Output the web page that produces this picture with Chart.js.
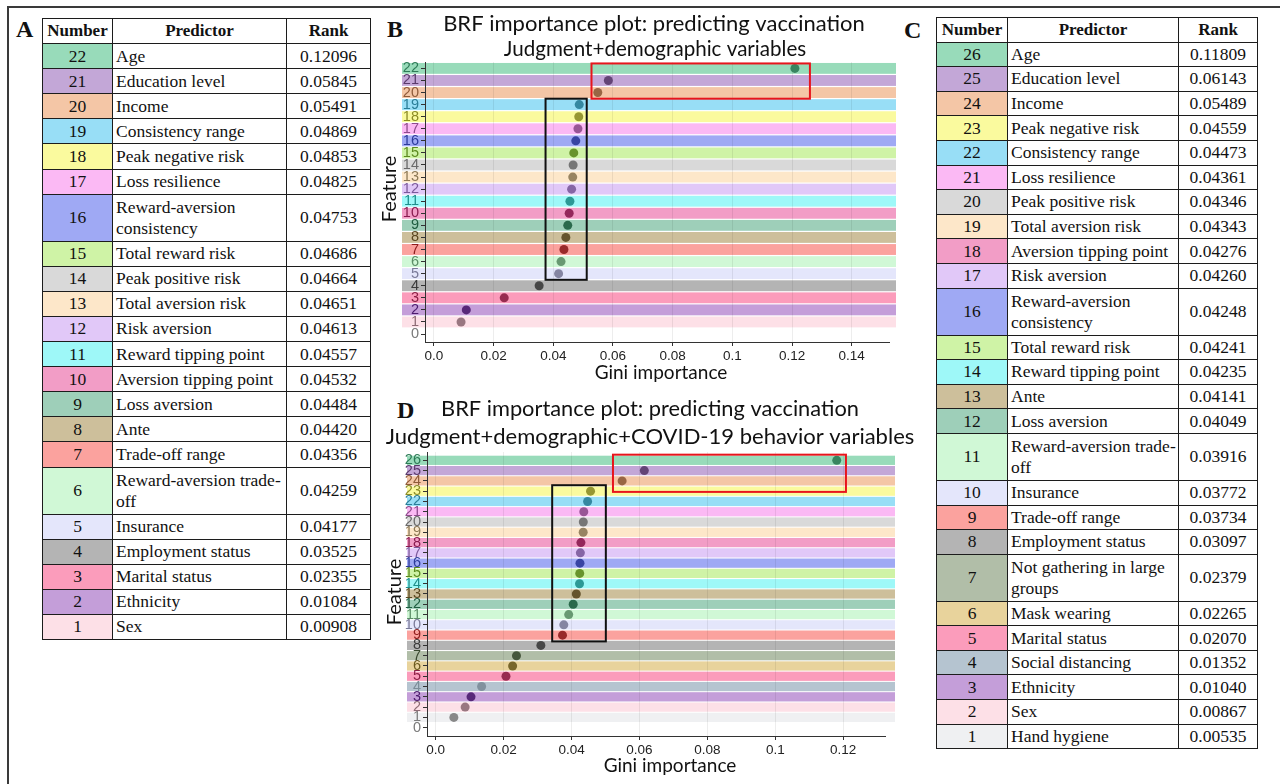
<!DOCTYPE html>
<html>
<head>
<meta charset="utf-8">
<script src="https://cdn.jsdelivr.net/npm/chart.js@4.4.1/dist/chart.umd.min.js"></script>
<style>
    html, body { margin: 0; padding: 0; background: #fff; }
    body { width: 1280px; height: 784px; position: relative; overflow: hidden; }
    #frame { position: absolute; left: 7px; top: 6px; width: 1300px; height: 820px; border-top: 2px solid #3a3a3a; border-left: 2px solid #3a3a3a; }
    .lbl { position: absolute; font: bold 24px "Liberation Serif", "Times New Roman", serif; color: #111; }
    table { position: absolute; border-collapse: collapse; table-layout: fixed; color: #111; }
    td, th { border: 1.5px solid #1c1c1c; padding: 0 3px; line-height: 21.5px; white-space: nowrap;
             font: 17.5px "Liberation Serif", "Times New Roman", serif; }
    th { font: bold 17px "Liberation Serif", "Times New Roman", serif; text-align: center; }
    #tableA td, #tableA th { height: 24.1px; }
    #tableC td, #tableC th { height: 23.6px; }
    td.num, td.rank { text-align: center; }
    td.two { padding: 2px 3px; }
    canvas { position: absolute; }
</style>
</head>
<body>
<div id="frame"></div>
<div class="lbl" style="left:16px;top:16px">A</div>
<div class="lbl" style="left:387px;top:16px">B</div>
<div class="lbl" style="left:904px;top:17px">C</div>
<div class="lbl" style="left:397px;top:397px">D</div>
<table id="tableA" style="left:42px;top:18px;width:328px"></table>
<table id="tableC" style="left:936px;top:17px;width:321px"></table>
<canvas id="chartB" width="520" height="380" style="left:380px;top:8px"></canvas>
<canvas id="chartD" width="540" height="388" style="left:380px;top:396px"></canvas>
<script>
// DATA
const numbersA = [22, 21, 20, 19, 18, 17, 16, 15, 14, 13, 12, 11, 10, 9, 8, 7, 6, 5, 4, 3, 2, 1];
const predictorsA = ['Age', 'Education level', 'Income', 'Consistency range', 'Peak negative risk', 'Loss resilience',
    'Reward-aversion consistency', 'Total reward risk', 'Peak positive risk', 'Total aversion risk', 'Risk aversion',
    'Reward tipping point', 'Aversion tipping point', 'Loss aversion', 'Ante', 'Trade-off range',
    'Reward-aversion trade-off', 'Insurance', 'Employment status', 'Marital status', 'Ethnicity', 'Sex'];
const ranksA = [0.12096, 0.05845, 0.05491, 0.04869, 0.04853, 0.04825, 0.04753, 0.04686, 0.04664, 0.04651, 0.04613,
    0.04557, 0.04532, 0.04484, 0.04420, 0.04356, 0.04259, 0.04177, 0.03525, 0.02355, 0.01084, 0.00908];

const numbersC = [26, 25, 24, 23, 22, 21, 20, 19, 18, 17, 16, 15, 14, 13, 12, 11, 10, 9, 8, 7, 6, 5, 4, 3, 2, 1];
const predictorsC = ['Age', 'Education level', 'Income', 'Peak negative risk', 'Consistency range', 'Loss resilience',
    'Peak positive risk', 'Total aversion risk', 'Aversion tipping point', 'Risk aversion', 'Reward-aversion consistency',
    'Total reward risk', 'Reward tipping point', 'Ante', 'Loss aversion', 'Reward-aversion trade-off', 'Insurance',
    'Trade-off range', 'Employment status', 'Not gathering in large groups', 'Mask wearing', 'Marital status',
    'Social distancing', 'Ethnicity', 'Sex', 'Hand hygiene'];
const ranksC = [0.11809, 0.06143, 0.05489, 0.04559, 0.04473, 0.04361, 0.04346, 0.04343, 0.04276, 0.04260, 0.04248,
    0.04241, 0.04235, 0.04141, 0.04049, 0.03916, 0.03772, 0.03734, 0.03097, 0.02379, 0.02265, 0.02070, 0.01352,
    0.01040, 0.00867, 0.00535];

const xTicksB = [0, 0.02, 0.04, 0.06, 0.08, 0.1, 0.12, 0.14];
const xTickLabelsB = ['0.0', '0.02', '0.04', '0.06', '0.08', '0.1', '0.12', '0.14'];
const xTicksD = [0, 0.02, 0.04, 0.06, 0.08, 0.1, 0.12];
const xTickLabelsD = ['0.0', '0.02', '0.04', '0.06', '0.08', '0.1', '0.12'];

// highlight boxes: [x from, x to, y from, y to]
const redBoxB = [0.0528, 0.126, 19.49, 22.41];
const blackBoxB = [0.0374, 0.0512, 4.49, 19.49];
const redBoxD = [0.0522, 0.1208, 22.93, 26.55];
const blackBoxD = [0.0343, 0.0501, 8.39, 23.58];

// COLORS: [band / cell, dot]
var palette = {
    'Age': ['#98dbba', '#2e7b57'],
    'Education level': ['#c3a7d7', '#5a3a6c'],
    'Income': ['#f4c6a6', '#8f5b3a'],
    'Consistency range': ['#98def6', '#2a7e98'],
    'Peak negative risk': ['#fafa9e', '#8c8c26'],
    'Loss resilience': ['#fbb9f4', '#8e4b8c'],
    'Reward-aversion consistency': ['#9fa9f4', '#2c3a9a'],
    'Total reward risk': ['#cff3a6', '#5c8a1f'],
    'Peak positive risk': ['#d9d9d9', '#6a6a6a'],
    'Total aversion risk': ['#fde7c9', '#8d7956'],
    'Risk aversion': ['#e1c8f8', '#7c5a9b'],
    'Reward tipping point': ['#9ef8f8', '#1f8e8b'],
    'Aversion tipping point': ['#f29dc6', '#8a1b4f'],
    'Loss aversion': ['#9ecfb9', '#1e5d40'],
    'Ante': ['#cdbf9b', '#5a4821'],
    'Trade-off range': ['#fba29e', '#8e1d1d'],
    'Reward-aversion trade-off': ['#d0f8d6', '#5c8e67'],
    'Insurance': ['#e4e6fb', '#7a7a98'],
    'Employment status': ['#b4b4b4', '#3b3b3b'],
    'Marital status': ['#fb9cbb', '#8c2045'],
    'Ethnicity': ['#c49ed9', '#4b1b6e'],
    'Sex': ['#fde0e7', '#8e6b75'],
    'Not gathering in large groups': ['#b1bea8', '#3a4a30'],
    'Mask wearing': ['#e8d39c', '#6b5a1f'],
    'Social distancing': ['#b5c4d0', '#7b8c98'],
    'Hand hygiene': ['#eff0f2', '#7c7c7c']
};

// TABLES
function cellText(s) {
    return s.replace('aversion consistency', 'aversion<br>consistency')
        .replace('trade-off', 'trade-<br>off')
        .replace('large groups', 'large<br>groups');
}

function buildTable(id, widths, nums, names, ranks) {
    var html = '<colgroup>' + widths.map(function (w) { return '<col style="width:' + w + 'px">'; }).join('') + '</colgroup>';
    html += '<tr><th>Number</th><th>Predictor</th><th>Rank</th></tr>';
    nums.forEach(function (n, i) {
        var txt = cellText(names[i]);
        var two = txt.indexOf('<br>') > -1 ? ' two' : '';
        html += '<tr><td class="num' + two + '" style="background:' + palette[names[i]][0] + '">' + n + '</td>' +
            '<td class="' + two + '">' + txt + '</td>' +
            '<td class="rank' + two + '">' + ranks[i].toFixed(5) + '</td></tr>';
    });
    document.getElementById(id).innerHTML = html;
}
buildTable('tableA', [70, 174, 84], numbersA, predictorsA, ranksA);
buildTable('tableC', [71, 171, 79], numbersC, predictorsC, ranksC);

// GRAPH
function overlay(nums, names, o) {
    return {
        id: 'overlay',
        beforeDraw: function (chart) {
            var ctx = chart.ctx, y = chart.scales.y;
            ctx.save();
            nums.forEach(function (n, i) {
                var t = y.getPixelForValue(n + 0.45), b = y.getPixelForValue(n - 0.45);
                ctx.fillStyle = palette[names[i]][0];
                ctx.fillRect(o.bandLeft, t, o.bandRight - o.bandLeft, b - t);
            });
            ctx.restore();
        },
        afterDatasetsDraw: function (chart) {
            var ctx = chart.ctx, x = chart.scales.x, y = chart.scales.y;
            ctx.save();
            ctx.lineWidth = 2;
            o.boxes.forEach(function (bx) {
                var l = x.getPixelForValue(bx.r[0]), r = x.getPixelForValue(bx.r[1]);
                var t = y.getPixelForValue(bx.r[3]), b = y.getPixelForValue(bx.r[2]);
                ctx.strokeStyle = bx.c;
                ctx.strokeRect(l, t, r - l, b - t);
            });
            ctx.restore();
        },
        // titles and axis titles
        afterDraw: function (chart) {
            var ctx = chart.ctx;
            ctx.save();
            ctx.fillStyle = '#111';
            ctx.textAlign = 'center';
            ctx.textBaseline = 'middle';
            o.texts.forEach(function (t) {
                ctx.save();
                ctx.translate(t.x, t.y);
                if (t.rot) ctx.rotate(-Math.PI / 2);
                ctx.font = t.size + 'px Lato';
                ctx.fillText(t.text, 0, 0);
                ctx.restore();
            });
            ctx.restore();
        }
    };
}

function importancePlot(id, nums, names, ranks, xTicks, xLabels, o) {
    var labelColors = {0: '#7a7a7a'};
    nums.forEach(function (n, i) { labelColors[n] = palette[names[i]][1]; });
    var yTicks = [];
    for (var k = 0; k <= nums[0]; k++) yTicks.push(k);

    new Chart(document.getElementById(id), {
        type: 'scatter',
        data: {
            datasets: [{
                data: nums.map(function (n, i) { return { x: ranks[i], y: n }; }),
                pointBackgroundColor: names.map(function (p) { return palette[p][1] + 'e6'; }),
                pointBorderWidth: 0,
                pointRadius: 4.5,
                pointHoverRadius: 4.5
            }]
        },
        options: {
            responsive: false,
            animation: false,
            layout: { padding: { left: 0, top: o.padTop, bottom: 0, right: o.padRight } },
            plugins: {
                legend: { display: false },
                tooltip: { enabled: false },
                title: { display: false }
            },
            scales: {
                x: {
                    type: 'linear',
                    min: o.xMin,
                    max: o.xMax,
                    afterBuildTicks: function (s) { s.ticks = xTicks.map(function (v) { return { value: v }; }); },
                    afterFit: function (s) { s.height = o.xHeight; },
                    ticks: {
                        callback: function (v, i) { return xLabels[i]; },
                        color: '#222',
                        font: { family: 'Liberation Sans', size: 13.5 },
                        padding: 2,
                        maxRotation: 0,
                        autoSkip: false
                    },
                    grid: { color: 'rgba(0,0,0,0.07)', tickColor: '#333', tickLength: 4 },
                    border: { color: '#333', width: 1 }
                },
                y: {
                    type: 'linear',
                    min: o.yMin,
                    max: o.yMax,
                    afterBuildTicks: function (s) { s.ticks = yTicks.map(function (v) { return { value: v }; }); },
                    afterFit: function (s) { s.width = o.yWidth; },
                    ticks: {
                        color: function (c) { return labelColors[c.tick.value]; },
                        font: { family: 'Liberation Sans', size: 14.5 },
                        padding: 2,
                        autoSkip: false
                    },
                    grid: { drawOnChartArea: false, tickColor: '#333', tickLength: 4 },
                    border: { color: '#333', width: 1 }
                }
            }
        },
        plugins: [overlay(nums, names, o)]
    });
}

importancePlot('chartB', numbersA, predictorsA, ranksA, xTicksB, xTickLabelsB, {
    xMin: -0.003, xMax: 0.1525, yMin: -0.66, yMax: 22.53,
    yWidth: 45, xHeight: 46, padRight: 11, padTop: 54,
    bandLeft: 22, bandRight: 516,
    boxes: [{ r: redBoxB, c: '#e8141c' }, { r: blackBoxB, c: '#111' }],
    texts: [
        { text: 'BRF importance plot: predicting vaccination', x: 274, y: 16, size: 22 },
        { text: 'Judgment+demographic variables', x: 275, y: 41, size: 20.6 },
        { text: 'Feature', x: 10, y: 181, size: 20, rot: true },
        { text: 'Gini importance', x: 281, y: 365, size: 19 }
    ]
});

importancePlot('chartD', numbersC, predictorsC, ranksC, xTicksD, xTickLabelsD, {
    xMin: -0.00256, xMax: 0.1323, yMin: -0.81, yMax: 26.81,
    yWidth: 47, xHeight: 48, padRight: 35, padTop: 56,
    bandLeft: 27, bandRight: 515,
    boxes: [{ r: redBoxD, c: '#e8141c' }, { r: blackBoxD, c: '#111' }],
    texts: [
        { text: 'BRF importance plot: predicting vaccination', x: 270, y: 13, size: 21.8 },
        { text: 'Judgment+demographic+COVID-19 behavior variables', x: 270, y: 41, size: 22 },
        { text: 'Feature', x: 15, y: 196, size: 20, rot: true },
        { text: 'Gini importance', x: 290, y: 370, size: 19 }
    ]
});
</script>
</body>
</html>
